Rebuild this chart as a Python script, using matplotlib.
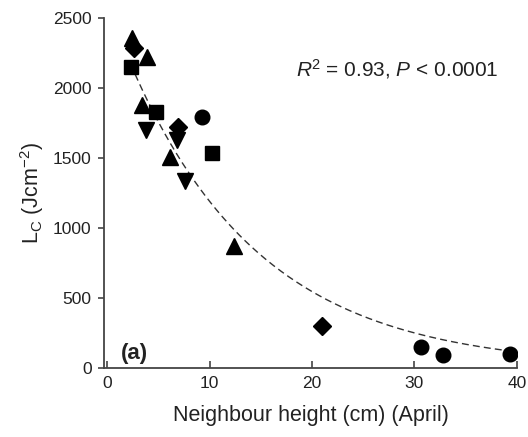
import numpy as np
import matplotlib
matplotlib.use('Agg')
import matplotlib.pyplot as plt

plt.rcParams['font.family'] = ['Liberation Sans', 'DejaVu Sans']
plt.rcParams['mathtext.fontset'] = 'custom'
plt.rcParams['mathtext.rm'] = 'Liberation Sans'
plt.rcParams['mathtext.it'] = 'Liberation Sans:italic'

# data, one array pair per marker type
tri_up_x = [2.4, 3.85, 3.4, 6.1, 12.4]
tri_up_y = [2360, 2225, 1880, 1510, 870]
diamond_x = [2.6, 6.95, 21.0]
diamond_y = [2290, 1720, 300]
square_x = [2.3, 4.8, 10.2]
square_y = [2150, 1830, 1540]
tri_down_x = [3.8, 6.8, 7.6]
tri_down_y = [1700, 1630, 1335]
circle_x = [9.3, 30.6, 32.8, 39.3]
circle_y = [1795, 150, 95, 100]

# exponential fit  y = a * exp(-b x)
fit_a = 2600
fit_b = 0.078
fit_xmin, fit_xmax = 2.3, 39.3

ink = '#222222'

fig = plt.figure(figsize=(5.28, 4.37), dpi=100)
ax = fig.add_axes([0.197, 0.158, 0.782, 0.8])

xs = np.linspace(fit_xmin, fit_xmax, 200)
ax.plot(xs, fit_a * np.exp(-fit_b * xs), color='#333333', ls=(0, (5, 3)), lw=1.0, zorder=1)

ax.plot(tri_up_x, tri_up_y, '^', color='black', ms=11, zorder=2)
ax.plot(diamond_x, diamond_y, 'D', color='black', ms=9, zorder=2)
ax.plot(square_x, square_y, 's', color='black', ms=10, zorder=2)
ax.plot(tri_down_x, tri_down_y, 'v', color='black', ms=11, zorder=2)
ax.plot(circle_x, circle_y, 'o', color='black', ms=10.5, zorder=2)

ax.set_xlim(-0.3, 40)
ax.set_ylim(0, 2500)
ax.set_xticks([0, 10, 20, 30, 40])
ax.set_yticks([0, 500, 1000, 1500, 2000, 2500])

for s in ['top', 'right']:
    ax.spines[s].set_visible(False)
for s in ['left', 'bottom']:
    ax.spines[s].set_color('#444444')
    ax.spines[s].set_linewidth(1.3)

ax.tick_params(axis='y', direction='out', length=4, width=1.2, colors='#444444',
               labelsize=12.5, labelcolor=ink, pad=5)
ax.tick_params(axis='x', direction='in', length=5, width=1.2, colors='#444444',
               labelsize=12.5, labelcolor=ink, pad=6)

ax.set_xlabel('Neighbour height (cm) (April)', fontsize=15.5, color=ink, labelpad=10)
ax.set_ylabel(r'L$_\mathregular{C}$ (Jcm$^\mathregular{-2}$)', fontsize=15.5, color=ink, labelpad=5)

ax.text(0.955, 0.855, r'$\mathit{R}$$^\mathregular{2}$ = 0.93, $\mathit{P}$ < 0.0001',
        transform=ax.transAxes, ha='right', va='center', fontsize=15, color=ink)
ax.text(0.04, 0.04, '(a)', transform=ax.transAxes, ha='left', va='center',
        fontsize=16, fontweight='bold', color=ink)

fig.savefig('out.png', dpi=100)
